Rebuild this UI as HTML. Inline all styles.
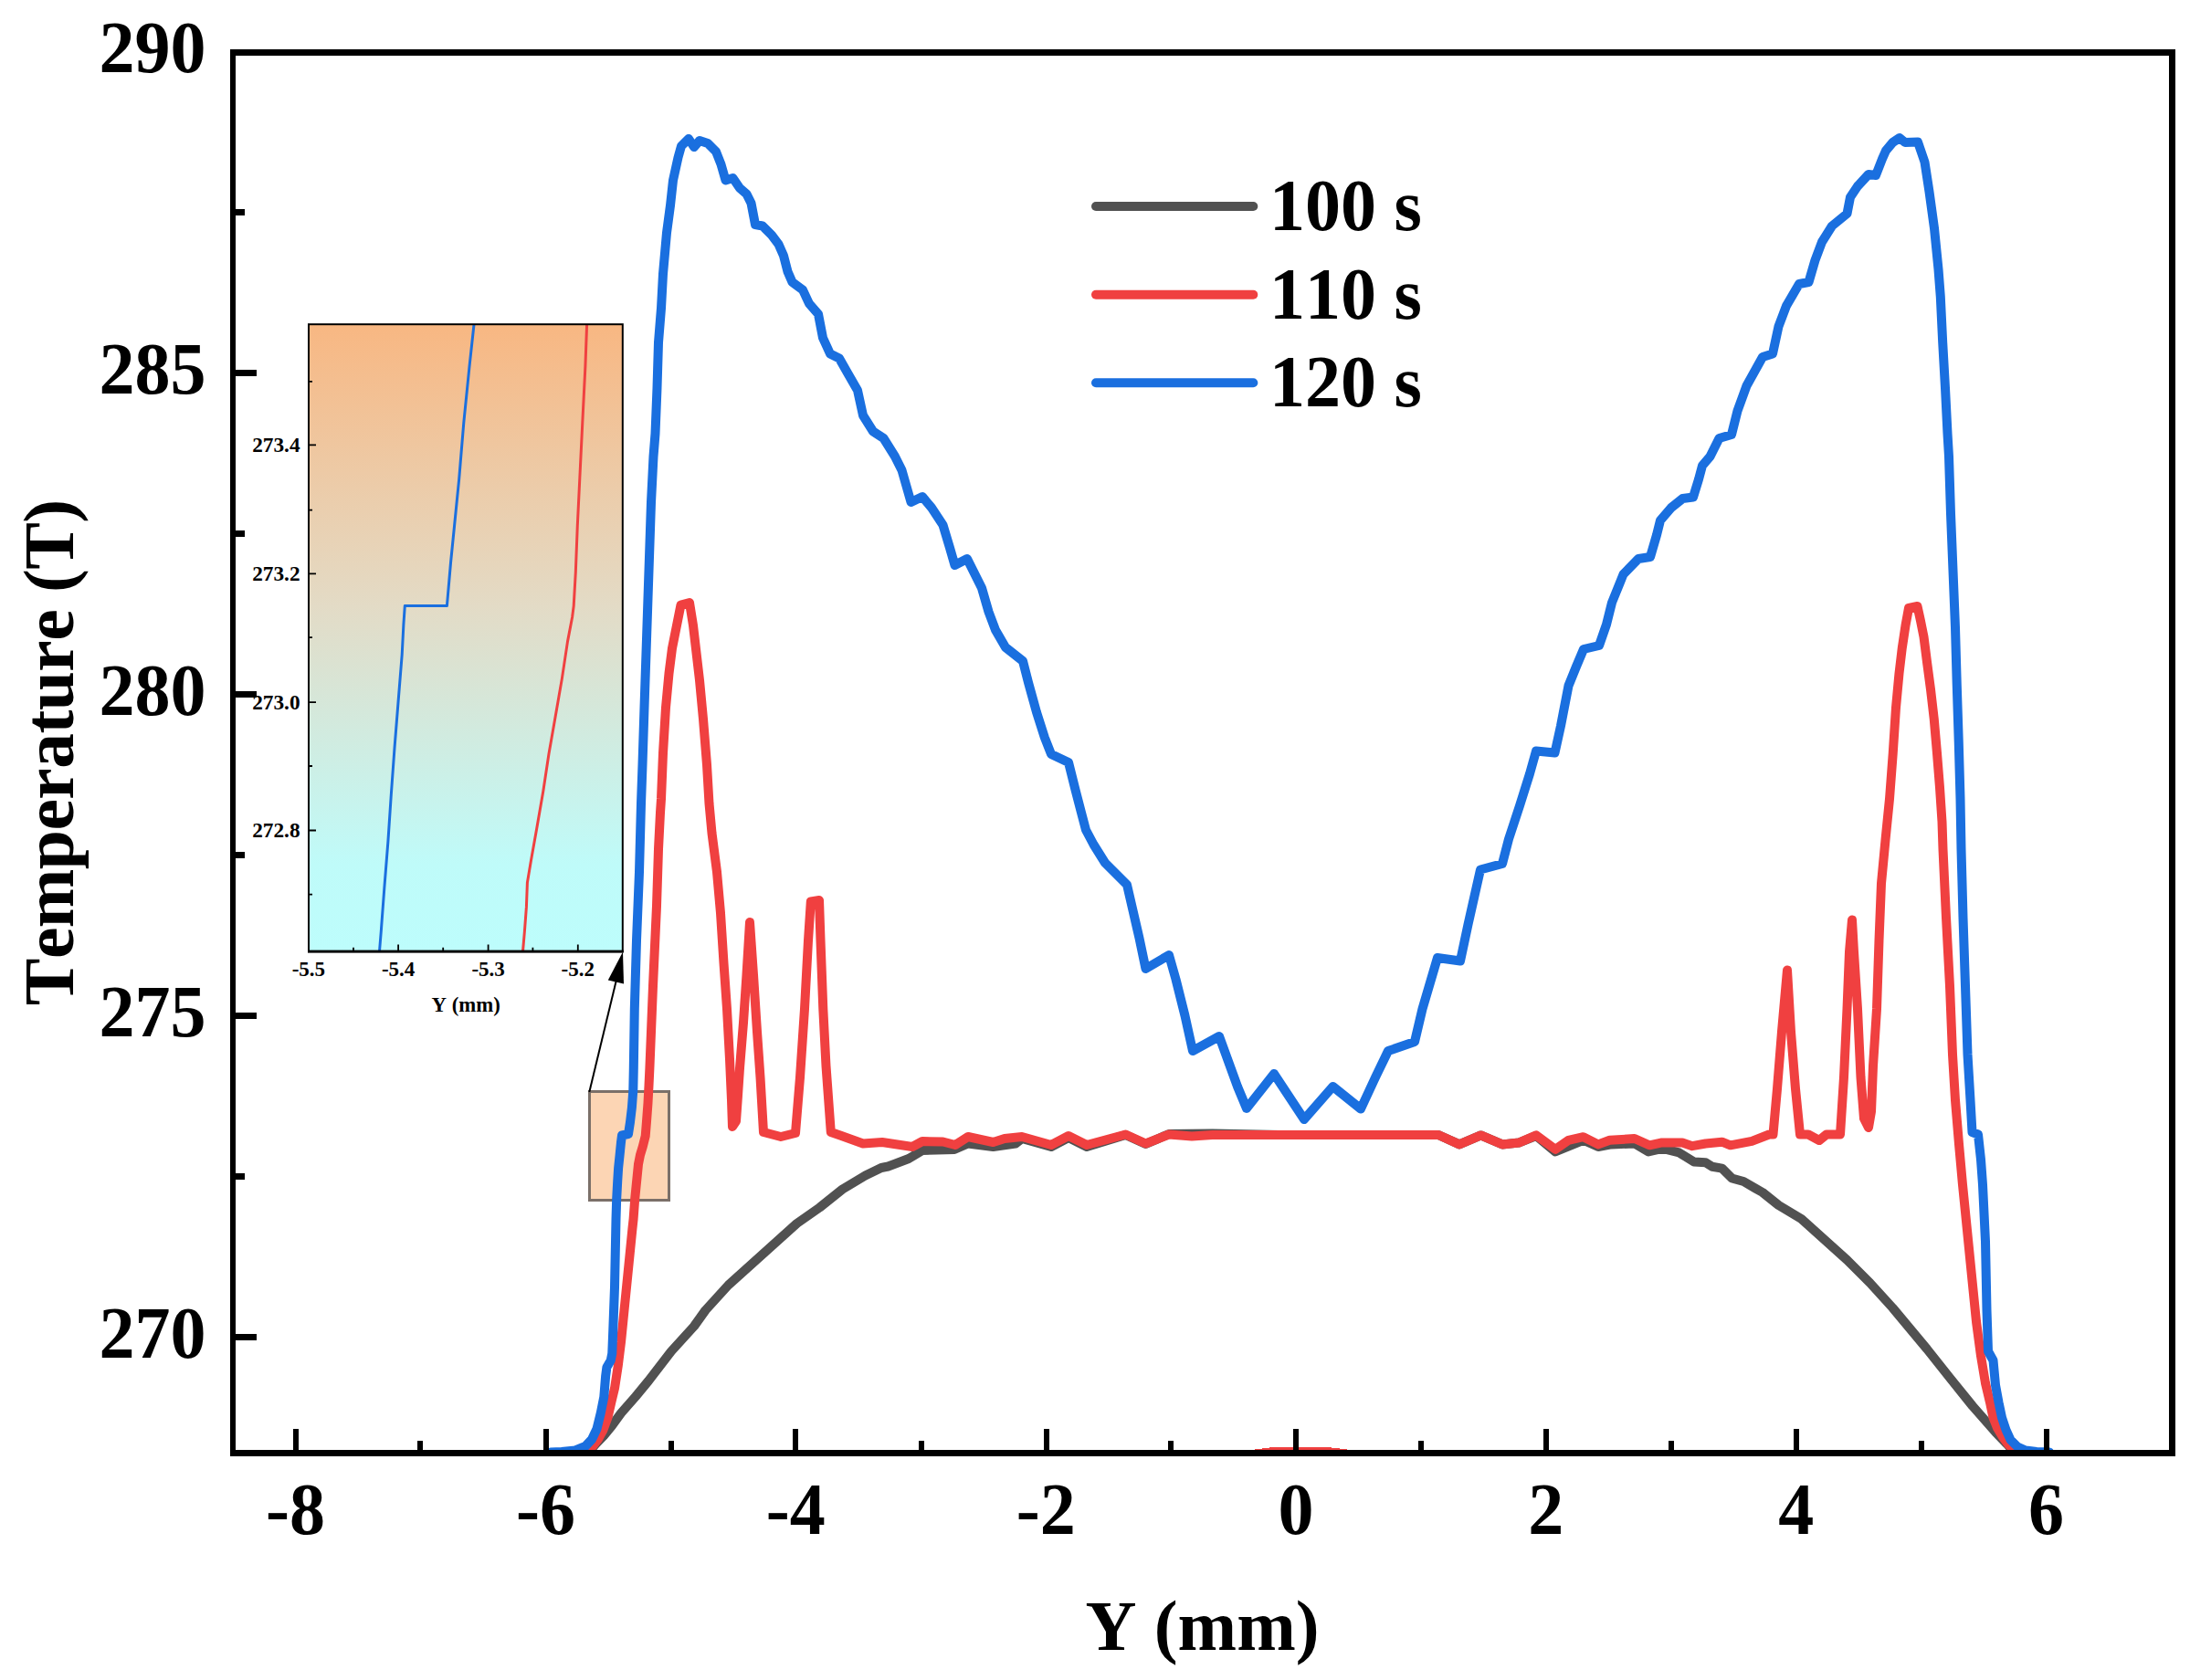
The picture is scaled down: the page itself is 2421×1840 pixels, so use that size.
<!DOCTYPE html>
<html lang="en"><head><meta charset="utf-8"><title>Temperature profile</title>
<style>html,body{margin:0;padding:0;background:#fff}svg{display:block}text{font-family:"Liberation Serif",serif;font-weight:bold;fill:#000;font-kerning:none}</style></head><body>
<svg width="2421" height="1840" viewBox="0 0 2421 1840">
<defs><linearGradient id="g" x1="0" y1="0" x2="0" y2="1"><stop offset="0" stop-color="#f8b782"/><stop offset="0.45" stop-color="#e3dbc6"/><stop offset="0.86" stop-color="#bffbf9"/><stop offset="1" stop-color="#bdfdfc"/></linearGradient>
<clipPath id="cp"><rect x="258" y="61" width="2117" height="1533"/></clipPath></defs>
<rect width="2421" height="1840" fill="#fff"/>
<rect x="645.5" y="1195.5" width="87" height="119" fill="#fcd5b4" stroke="#7b7069" stroke-width="3"/>
<g fill="none" stroke-linejoin="round" stroke-linecap="round" clip-path="url(#cp)">
<polyline stroke="#515151" stroke-width="10" points="645,1590 652.8,1581 661,1572.5 670,1561.5 680,1547.8 696,1529.5 710,1512.5 735,1480 760,1452.5 772.5,1435 797.5,1407.5 822.5,1385 847.5,1362.5 872.5,1340 897.5,1322.5 922.5,1302.5 947.5,1287.5 965,1279 972.5,1277.5 995,1269 1010,1260 1045,1259 1060,1252.5 1087.5,1256 1112,1252.5 1119,1247 1151,1256 1170,1246 1190,1256 1232.5,1243 1254.5,1253 1280,1242 1327.5,1241.5 1400,1243 1575,1243 1598,1253.4 1621.5,1243.4 1645,1253.4 1663,1251.6 1682,1244 1703,1261.5 1733.7,1248.8 1750,1256 1764.4,1253.4 1789.8,1252.5 1805,1261.5 1820.5,1257.9 1838.6,1262.4 1854.9,1272.4 1867.6,1273.3 1874.8,1277.8 1885.6,1279.6 1896.5,1290.5 1909.2,1294 1921.8,1301.3 1930,1306 1947.5,1320 1972.5,1335 1997.5,1357.5 2022.5,1380 2047.5,1405 2072.5,1432.5 2085,1447.5 2110,1477.5 2135,1509 2160,1540 2185,1568.5 2197.5,1581.5 2206,1591"/>
<polyline stroke="#f04040" stroke-width="10" points="640,1592 646,1588 654.5,1577 660.5,1566 665.5,1552.6 669.3,1536 673.1,1520 676.9,1495 680,1470 682.5,1445 685,1420 687.5,1395 690,1370 692.5,1345 693.6,1335 695.2,1313 696.2,1303 697.6,1289 699,1275 701,1265 703.8,1255.7 706.7,1244.3 708.1,1227 709.5,1208 710.5,1189 711.4,1170 712,1155 715,1080 719,992.5 721,930 723,890 724,875 726,825 729,775 732.5,737.5 736,710 741,685 745.5,662.5 755,660 759,685 762.5,715 766,745 770,787.5 774,837.5 776.5,880 779.5,912.5 785,955 789,1000 792.5,1055 796,1105 799,1160 801,1205 802,1234 806,1228 808,1200 810,1170 814,1120 817.5,1067.5 821,1010 825,1067.5 829,1130 832.5,1180 836,1240 855,1245 871,1241 876,1180 881,1105 885,1030 887.8,987.5 897,986 898.5,1030 901.3,1105 904.5,1167.5 909.8,1240 920,1243.5 945,1252.5 966,1251 999,1256 1010,1250 1032.5,1250.5 1046,1254 1060,1245 1087.5,1251 1100,1247 1119,1245 1151,1254 1170,1244 1190,1254 1232.5,1242.5 1254.5,1252.5 1280,1242.5 1305,1244.5 1327.5,1243 1575,1243 1598,1253.4 1621.5,1243.4 1645,1253.4 1663,1251.6 1682,1243.4 1703,1258.8 1717.4,1248.8 1733.7,1245.2 1750,1253.4 1762.6,1248.8 1789.8,1247 1806,1254.3 1818.7,1251.6 1842.2,1251.6 1853,1255.2 1867.6,1252.5 1885.6,1250.7 1894.7,1254.3 1918.2,1249.8 1937.2,1242.5 1941.5,1242.5 1946,1192.5 1951,1130 1957,1062.5 1961,1130 1966,1192.5 1971,1242.5 1980,1242.5 1992,1249 2000,1242.5 2015,1242.5 2019,1180 2022.5,1105 2025,1042.5 2028,1007.5 2030,1042.5 2034,1105 2037.5,1180 2041,1225 2046,1235 2049,1217.5 2051,1167.5 2055,1105 2057.5,1030 2060,967.5 2064.5,920 2069,875 2072.75,825 2076,775 2079.5,737.5 2082.75,710 2086.5,685 2090,666 2099.5,664 2103,680 2106.5,697.5 2110,725 2114,755 2117.75,787.5 2121,825 2124,862.5 2126.5,900 2127.5,930 2131,1005 2135,1080 2138,1155 2141,1205 2145,1253 2149,1297.5 2154,1347.5 2159,1397.5 2164,1447.5 2169,1485 2174,1515 2179,1536 2182.5,1552.6 2187,1564 2193,1574 2199,1582 2206,1589 2212,1593"/>
<path stroke="none" fill="#f04040" d="M1374,1589V1587H1382V1586H1390V1585H1458V1586H1467V1587H1475V1589z"/>
<polyline stroke="#1a6fdf" stroke-width="10" points="603,1590.5 615,1590 630,1588.5 641,1584 648,1576.5 653.5,1565 657.8,1547.5 661.3,1530 663.1,1507.5 664.4,1497.5 668.75,1490 670.25,1482.5 671.25,1457.5 673,1410 674.5,1335 675.2,1313 676.2,1294 677.1,1279.5 678.6,1265 680,1251 681,1243.5 688,1242 690,1229 691.9,1213 693.3,1194 693.8,1170 694.8,1105 697,1030 700,955 702,880 703.5,837.5 705.5,775 708,700 710.5,625 713,550 715.5,500 717.5,475 719.5,425 721,375 724,337.5 726,300 730,255 734,225 737,197.5 742.5,172.5 746,160 754,152 760,161 766,154 775,157 784,166 789.5,180 794.5,197.5 802.5,195 810,206 817.5,212.5 822.5,222.5 827,246 835,247.5 845,257.5 852.5,267.5 858,280 862.5,297.5 867.5,309 879,317.5 886,332.5 896,344 901,370 909,387.5 919,392.5 927.5,407.5 939,427.5 945,455 956,472.5 967.5,480 980,500 987.5,515 992.5,532.5 997.5,550 1010,544 1020,556 1032.5,575 1040,600 1045.5,619 1059,612 1066,626 1075,644 1082.5,670 1090,690 1101,709 1120,724 1126,747.5 1135,780 1143.75,807.5 1151,826 1170,835 1177.5,865 1184,890 1189,909 1197.5,925 1210,945 1234,969 1240,995 1247.5,1027.5 1254.5,1061 1280,1046 1287.5,1072.5 1297.5,1112.5 1306,1151 1335,1135 1345,1162.5 1355,1190 1365,1214 1395,1176 1428,1226 1459.5,1190 1490,1214.5 1506,1180 1520,1151 1549,1141 1557.5,1105 1574,1049 1599,1052.5 1607.5,1012.5 1621,952.5 1645,946 1652,919 1664,882.5 1675,847.5 1682,822.5 1702.5,824.5 1709,795 1717.5,751 1726,730 1734,711 1751,707 1759,684 1765,660 1777.5,629 1794,612 1807,610 1814,586 1818,570 1830,556 1842.5,546 1854,544.5 1860,525 1864,510 1872.5,500 1882.5,480 1896,476 1902.5,450 1912.5,422.5 1930,391 1941,387.5 1947.5,357.5 1956,335 1970,311 1980.5,309 1987.5,285 1995,265 2006,247.5 2022.5,234 2026,216 2034,204 2046,191 2054,192 2061,174 2065,165 2072.5,156 2080,151 2086,156 2100,155.5 2107.5,177.5 2112.5,210 2118,250 2122.5,295 2124.8,325 2127.2,375 2130,425 2132.5,475 2134,500 2136,562.5 2138.5,625 2141,687.5 2142.75,750 2144.75,812.5 2146.5,875 2147.5,930 2149.5,1005 2152,1080 2154.5,1155 2157.5,1205 2159.5,1240 2166,1242.5 2169,1270 2171,1297.5 2174,1360 2175.5,1435 2177,1480 2182.5,1490 2185,1517 2188.5,1536 2192,1552.6 2196.5,1566 2201.5,1577 2209,1584.5 2218,1588.5 2230,1590 2244,1590.5"/>
</g>
<rect x="338" y="355" width="344" height="687" fill="url(#g)"/>
<g fill="none" stroke-linejoin="round">
<polyline stroke="#1a6fdf" stroke-width="3" points="519,355.4 514,401.4 507.8,462.9 502.7,524.3 497.6,575.5 493.5,616.5 489.4,663.6 443.3,663.6 441.9,684 440.2,717 436.1,768.2 432,819.4 428.3,870.5 424.9,921.7 420.8,973 417.3,1020 415.5,1042"/>
<polyline stroke="#f04040" stroke-width="3" points="642.6,355.4 640.9,401.4 637.8,462.9 634.8,524.3 632.3,575.5 630.3,626.7 628.2,663.6 626.6,676 621.5,702.6 615.3,743.6 608.2,784.5 601,825.5 594.8,866.5 587.7,907.4 581.5,942.2 577.4,966.8 576.4,993.4 574.4,1020 572.5,1042"/>
</g>
<rect x="338" y="355.2" width="343.8" height="686.8" fill="none" stroke="#000" stroke-width="2"/>
<rect x="337" y="1040.6" width="345.8" height="3" fill="#000"/>
<path d="M338.5,417.8h3.5 M338.5,487.4h7.5 M338.5,558.7h3.5 M338.5,628.3h7.5 M338.5,698.1h3.5 M338.5,769.2h7.5 M338.5,839h3.5 M338.5,909.5h7.5 M338.5,979.7h3.5 M387,1041v-3.3 M436.1,1041v-6.5 M485.2,1041v-3.3 M534.6,1041v-6.5 M583.4,1041v-3.3 M632.8,1041v-6.5" stroke="#000" stroke-width="1.8" fill="none"/>
<text x="328.6" y="495.09999999999997" font-size="23.3" text-anchor="end">273.4</text>
<text x="328.6" y="636.0" font-size="23.3" text-anchor="end">273.2</text>
<text x="328.6" y="776.9000000000001" font-size="23.3" text-anchor="end">273.0</text>
<text x="328.6" y="917.2" font-size="23.3" text-anchor="end">272.8</text>
<text x="337.9" y="1068.8" font-size="23" text-anchor="middle">-5.5</text>
<text x="436.1" y="1068.8" font-size="23" text-anchor="middle">-5.4</text>
<text x="534.6" y="1068.8" font-size="23" text-anchor="middle">-5.3</text>
<text x="632.8" y="1068.8" font-size="23" text-anchor="middle">-5.2</text>
<text x="510.2" y="1108" font-size="22.8" text-anchor="middle">Y (mm)</text>
<line x1="645.3" y1="1196" x2="675" y2="1073" stroke="#000" stroke-width="2"/>
<polygon points="682,1042.5 665.8,1073.4 683,1077.4" fill="#000"/>
<path d="M321,1565h6V1590h-6z M457,1578h6V1590h-6z M595,1565h6V1590h-6z M732,1578h6V1590h-6z M868,1565h6V1590h-6z M1006,1578h6V1590h-6z M1143,1565h6V1590h-6z M1279,1578h6V1590h-6z M1416,1565h6V1590h-6z M1553,1578h6V1590h-6z M1690,1565h6V1590h-6z M1827,1578h6V1590h-6z M1964,1565h6V1590h-6z M2101,1578h6V1590h-6z M2238,1565h6V1590h-6z M256,229.0H268v7H256z M256,405.0H281v7H256z M256,581.0H268v7H256z M256,757.0H281v7H256z M256,933.0000000000001H268v7H256z M256,1109.0H281v7H256z M256,1285.0H268v7H256z M256,1461.0H281v7H256z" fill="#000"/>
<path d="M252,54H2382V1595H252zM258,61V1588H2375V61z" fill="#000" fill-rule="evenodd"/>
<text transform="translate(323.6,1680) scale(1,1.03)" font-size="78" text-anchor="middle">-8</text>
<text transform="translate(597.5,1680) scale(1,1.03)" font-size="78" text-anchor="middle">-6</text>
<text transform="translate(871.3,1680) scale(1,1.03)" font-size="78" text-anchor="middle">-4</text>
<text transform="translate(1145.2,1680) scale(1,1.03)" font-size="78" text-anchor="middle">-2</text>
<text transform="translate(1419.0,1680) scale(1,1.03)" font-size="78" text-anchor="middle">0</text>
<text transform="translate(1692.8,1680) scale(1,1.03)" font-size="78" text-anchor="middle">2</text>
<text transform="translate(1966.7,1680) scale(1,1.03)" font-size="78" text-anchor="middle">4</text>
<text transform="translate(2240.5,1680) scale(1,1.03)" font-size="78" text-anchor="middle">6</text>
<text transform="translate(225.5,79.0) scale(1,1.03)" font-size="78" text-anchor="end">290</text>
<text transform="translate(225.5,431.0) scale(1,1.03)" font-size="78" text-anchor="end">285</text>
<text transform="translate(225.5,783.0) scale(1,1.03)" font-size="78" text-anchor="end">280</text>
<text transform="translate(225.5,1135.0) scale(1,1.03)" font-size="78" text-anchor="end">275</text>
<text transform="translate(225.5,1487.0) scale(1,1.03)" font-size="78" text-anchor="end">270</text>
<text x="1316.5" y="1807.2" font-size="77.5" text-anchor="middle">Y (mm)</text>
<text transform="translate(80,824.3) rotate(-90)" font-size="77.5" text-anchor="middle" letter-spacing="-0.52">Temperature (T)</text>
<line x1="1200" y1="226" x2="1372.3" y2="226" stroke="#515151" stroke-width="10" stroke-linecap="round"/>
<text transform="translate(1390,252) scale(1,1.03)" font-size="78">100 s</text>
<line x1="1200" y1="322.8" x2="1372.3" y2="322.8" stroke="#f04040" stroke-width="10" stroke-linecap="round"/>
<text transform="translate(1390,348.8) scale(1,1.03)" font-size="78">110 s</text>
<line x1="1200" y1="419.3" x2="1372.3" y2="419.3" stroke="#1a6fdf" stroke-width="10" stroke-linecap="round"/>
<text transform="translate(1390,445.3) scale(1,1.03)" font-size="78">120 s</text>
</svg></body></html>
